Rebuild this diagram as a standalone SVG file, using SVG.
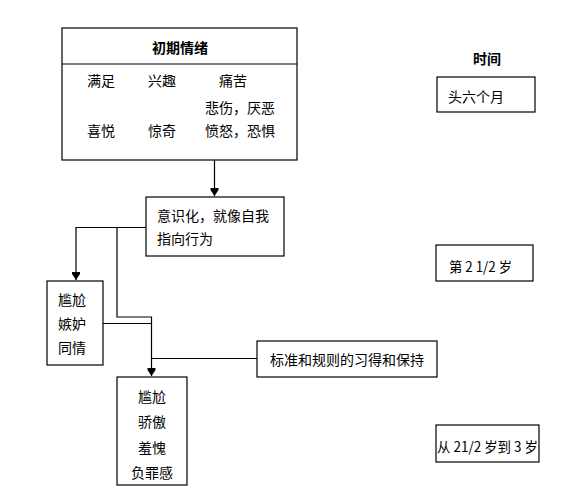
<svg xmlns="http://www.w3.org/2000/svg" width="586" height="503" viewBox="0 0 586 503">
<style>
.box{fill:#fff;stroke:#000;stroke-width:1.2}
.t{font-family:"Noto Sans CJK SC","Liberation Sans",sans-serif;font-size:14px;fill:#000}
.b{font-weight:bold}
.c{fill:none;stroke:#000;stroke-width:1.2}
.ah{fill:#000}
</style>
<rect width="586" height="503" fill="#fff"/>
<g id="connectors">
<path class="c" d="M214.5,160 V196"/>
<path class="ah" d="M210.5,188 H218.5 V190 L214.5,196 L210.5,190 Z"/>
<path class="c" d="M146,227.5 H76 V280"/>
<path class="ah" d="M72,272 H80 V274 L76,280 L72,274 Z"/>
<path class="c" d="M117,227.5 V317 H151.5 V376"/>
<path class="ah" d="M147.5,368 H155.5 V370 L151.5,376 L147.5,370 Z"/>
<path class="c" d="M103,323.5 H151.5"/>
<path class="c" d="M257,358.5 H151.5"/>
</g>
<g id="node-initial">
<rect class="box" x="62" y="28" width="235" height="132"/>
<line class="c" x1="62" y1="64" x2="297" y2="64"/>
<text class="t b" x="180" y="53" font-size="17" text-anchor="middle">初期情绪</text>
<text class="t" x="87" y="86">满足</text>
<text class="t" x="148" y="86">兴趣</text>
<text class="t" x="219" y="86">痛苦</text>
<text class="t" x="205" y="113">悲伤，厌恶</text>
<text class="t" x="87" y="136">喜悦</text>
<text class="t" x="148" y="136">惊奇</text>
<text class="t" x="205" y="136">愤怒，恐惧</text>
</g>
<g id="node-consciousness">
<rect class="box" x="146" y="197" width="138" height="59"/>
<text class="t" x="157" y="220.5">意识化，就像自我</text>
<text class="t" x="157" y="243.5">指向行为</text>
</g>
<g id="node-embarrass1">
<rect class="box" x="47" y="281" width="56" height="84"/>
<text class="t" x="58" y="305">尴尬</text>
<text class="t" x="58" y="328.5">嫉妒</text>
<text class="t" x="58" y="353">同情</text>
</g>
<g id="node-standards">
<rect class="box" x="257" y="341" width="180" height="36"/>
<text class="t" x="270" y="365">标准和规则的习得和保持</text>
</g>
<g id="node-embarrass2">
<rect class="box" x="117" y="377" width="70" height="108"/>
<text class="t" x="152" y="401.5" text-anchor="middle">尴尬</text>
<text class="t" x="152" y="426.5" text-anchor="middle">骄傲</text>
<text class="t" x="152" y="453" text-anchor="middle">羞愧</text>
<text class="t" x="152" y="478" text-anchor="middle">负罪感</text>
</g>
<g id="time-header">
<text class="t b" x="487" y="64" font-size="15" text-anchor="middle">时间</text>
</g>
<g id="time-1">
<rect class="box" x="437" y="77" width="98" height="35"/>
<text class="t" x="448" y="101.5">头六个月</text>
</g>
<g id="time-2">
<rect class="box" x="436" y="245" width="97" height="36"/>
<text class="t" x="449" y="271.5" textLength="63" lengthAdjust="spacingAndGlyphs">第 2 1/2 岁</text>
</g>
<g id="time-3">
<rect class="box" x="436" y="425" width="103" height="37"/>
<text class="t" x="437" y="451.5" textLength="101" lengthAdjust="spacingAndGlyphs">从 21/2 岁到 3 岁</text>
</g>
</svg>
